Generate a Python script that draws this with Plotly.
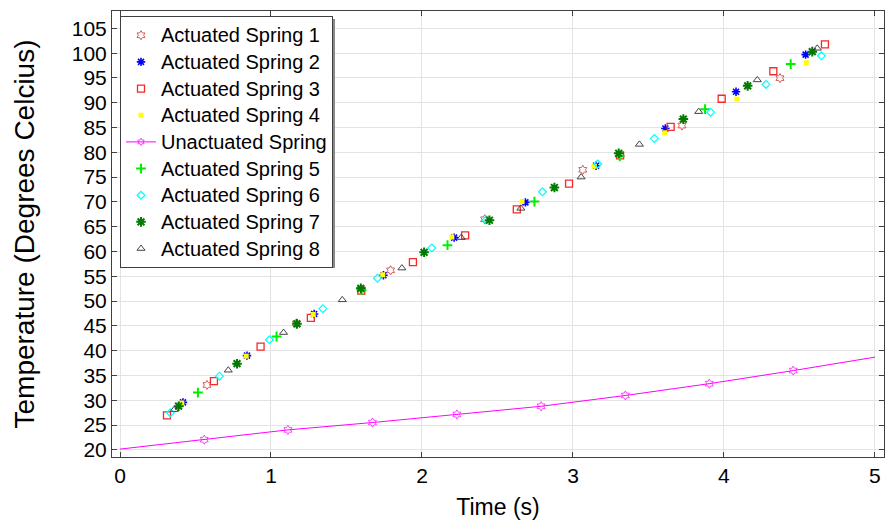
import plotly.graph_objects as go

# ---------------- data ----------------
s1_t = [0.576, 1.168, 1.792, 2.415, 3.065, 3.722, 4.371]
s1_T = [33.08, 45.5, 56.2, 66.5, 76.47, 85.4, 94.96]

s2_t = [0.417, 0.841, 1.286, 1.745, 2.213, 2.685, 3.153, 3.612, 4.080, 4.541]
s2_T = [29.57, 39.0, 47.4, 55.2, 62.8, 69.9, 77.3, 84.8, 92.2, 99.7]

s3_t = [0.311, 0.622, 0.931, 1.264, 1.598, 1.940, 2.286, 2.628, 2.974, 3.312, 3.647, 3.985, 4.327, 4.669]
s3_T = [26.93, 33.87, 40.8, 46.6, 52.1, 57.85, 63.26, 68.5, 73.7, 79.4, 85.13, 90.8, 96.35, 101.77]

s4_t = [0.410, 0.836, 1.280, 1.740, 2.198, 2.663, 3.142, 3.608, 4.085, 4.545]
s4_T = [29.45, 38.9, 47.3, 55.3, 62.9, 70.07, 77.2, 83.94, 90.74, 98.07]

un_t = [0.0, 0.558, 1.112, 1.672, 2.231, 2.789, 3.347, 3.903, 4.459, 5.0]
un_T = [20.14, 22.04, 24.02, 25.5, 27.13, 28.78, 30.96, 33.34, 35.98, 38.69]

s5_t = [0.516, 1.037, 1.600, 2.169, 2.745, 3.310, 3.875, 4.442]
s5_T = [31.55, 42.85, 52.2, 61.27, 70.07, 79.2, 88.7, 97.8]

s6_t = [0.333, 0.659, 0.990, 1.344, 1.705, 2.065, 2.425, 2.798, 3.164, 3.539, 3.912, 4.278, 4.645]
s6_T = [27.47, 34.86, 42.2, 48.47, 54.6, 60.7, 66.4, 72.05, 77.65, 82.8, 88.1, 93.7, 99.45]

s7_t = [0.388, 0.775, 1.172, 1.595, 2.014, 2.447, 2.877, 3.303, 3.731, 4.157, 4.585]
s7_T = [28.8, 37.37, 45.4, 52.56, 59.83, 66.3, 72.9, 79.8, 86.7, 93.4, 100.3]

s8_t = [0.359, 0.717, 1.083, 1.472, 1.867, 2.260, 2.655, 3.054, 3.440, 3.833, 4.221, 4.618]
s8_T = [28.1, 36.05, 43.65, 50.25, 56.65, 62.8, 68.7, 75.0, 81.6, 88.2, 94.6, 100.97]

x_ticks = [0, 1, 2, 3, 4, 5]
y_ticks = list(range(20, 106, 5))

FONT = "Liberation Sans, Arial"

# ---------------- figure ----------------
fig = go.Figure()


def label(name):
    # legend text shown at 20px while the legend row pitch follows a smaller font
    return '<span style="font-size:20px">' + name + "</span>"


def pts(t, T, name, symbol, color, size, lw=1.0):
    fig.add_trace(go.Scatter(
        x=t, y=T, name=label(name), mode="markers",
        marker=dict(symbol=symbol, size=size, color=color,
                    line=dict(color=color, width=lw)),
    ))


pts(s1_t, s1_T, "Actuated Spring 1", "hexagram-open", "#d2605c", 7)
pts(s2_t, s2_T, "Actuated Spring 2", "asterisk-open", "#0000ff", 7, 1.6)
pts(s3_t, s3_T, "Actuated Spring 3", "square-open", "#f42a2a", 7, 1.3)
pts(s4_t, s4_T, "Actuated Spring 4", "square", "#ffff00", 5, 0)

fig.add_trace(go.Scatter(
    x=un_t, y=un_T, name=label("Unactuated Spring"), mode="lines+markers",
    line=dict(color="#ff00ff", width=1),
    marker=dict(symbol="hexagram-open", color="#ff00ff",
                size=[0] + [7] * (len(un_t) - 2) + [0],
                line=dict(color="#ff00ff", width=1)),
))

pts(s5_t, s5_T, "Actuated Spring 5", "cross-thin-open", "#00ee00", 7, 2.0)
pts(s6_t, s6_T, "Actuated Spring 6", "diamond-open", "#00ffff", 6, 1.2)
pts(s7_t, s7_T, "Actuated Spring 7", "asterisk-open", "#007a00", 8, 2.0)
pts(s8_t, s8_T, "Actuated Spring 8", "triangle-up-open", "#444444", 7, 1.0)

axis_common = dict(
    showgrid=True, gridcolor="#e3e3e3", gridwidth=1,
    showline=True, linecolor="#404040", linewidth=1, mirror="allticks",
    ticks="inside", ticklen=5, tickcolor="#404040",
    zeroline=False,
    tickfont=dict(family=FONT, size=21, color="#000000"),
)

fig.update_xaxes(range=[-0.053, 5.06], tickvals=x_ticks,
                 title=dict(text="Time (s)", font=dict(family=FONT, size=23, color="#000000"),
                            standoff=12),
                 **axis_common)
fig.update_yaxes(range=[18.55, 108.5], tickvals=y_ticks,
                 title=dict(text="Temperature (Degrees Celcius)",
                            font=dict(family=FONT, size=28, color="#000000"),
                            standoff=28),
                 **axis_common)

# legend drop shadow (legend box ~ x 120..333 px, y 15..269 px)
PL, PR, PT, PB = 112, 884, 10, 463
def px_x(p):
    return (p - PL) / (PR - PL)
def px_y(p):
    return (PB - p) / (PB - PT)

fig.add_shape(type="rect", xref="paper", yref="paper",
              x0=px_x(123), x1=px_x(335), y0=px_y(271), y1=px_y(18),
              fillcolor="#8a8a8a", line=dict(width=0), layer="above")

fig.update_layout(
    width=896, height=525,
    margin=dict(l=PL, r=896 - PR, t=PT, b=525 - PB),
    paper_bgcolor="white", plot_bgcolor="white",
    showlegend=True,
    legend=dict(
        x=px_x(120), y=px_y(15), xanchor="left", yanchor="top",
        bgcolor="white", bordercolor="#404040", borderwidth=1,
        font=dict(family=FONT, size=18.2, color="#000000"),
        itemwidth=30,
    ),
)

fig.write_html("out.html")
